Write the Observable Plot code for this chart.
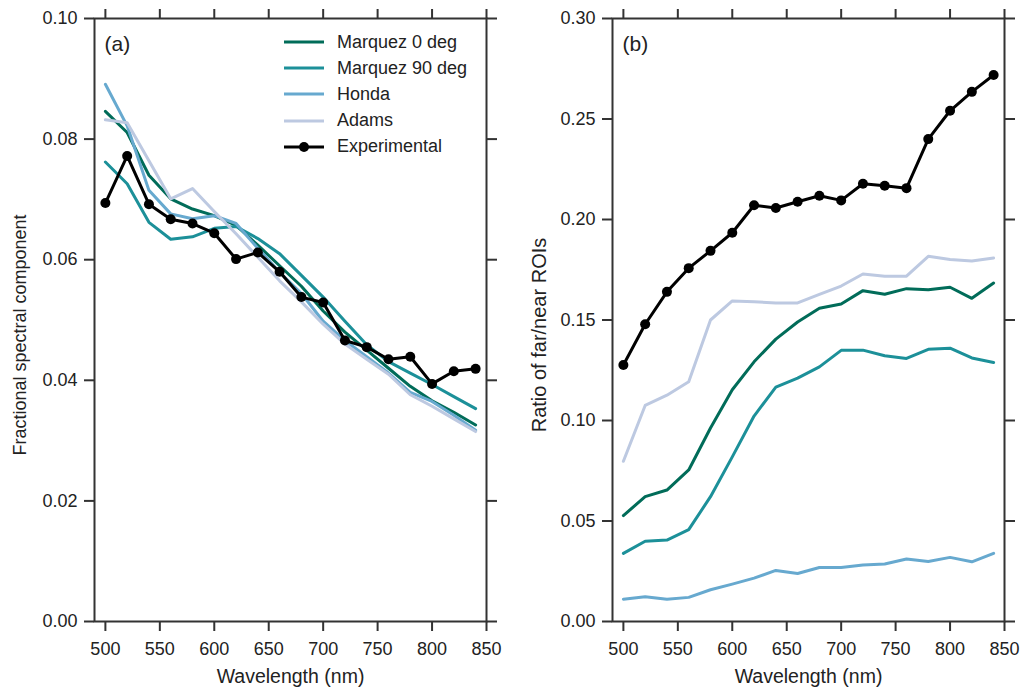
<!DOCTYPE html>
<html>
<head>
<meta charset="utf-8">
<script src="https://cdn.jsdelivr.net/npm/d3@7"></script>
<script src="https://cdn.jsdelivr.net/npm/@observablehq/plot@0.6"></script>
<style>
  html, body { margin: 0; padding: 0; background: #fff; }
  #wrap { position: relative; width: 1022px; height: 690px; font-family: "Liberation Sans", Arial, sans-serif; }
  .panel { position: absolute; top: 0; }
  #legend { position: absolute; left: 284px; top: 29px; font-size: 18px; color: #222; }
  #legend .row { display: flex; align-items: center; height: 26.2px; }
  #legend svg { margin-right: 13px; }
</style>
</head>
<body>
<div id="wrap"></div>
<script>
const wavelengths = [500,520,540,560,580,600,620,640,660,680,700,720,740,760,780,800,820,840];
const seriesNames = ["Marquez 0 deg","Marquez 90 deg","Honda","Adams","Experimental"];
const seriesColors = ["#016c59","#1c9099","#67a9cf","#bdc9e1","#000000"];
const xTicks = [500,550,600,650,700,750,800,850];
const yTicksA = [0,0.02,0.04,0.06,0.08,0.10];
const yTicksB = [0,0.05,0.10,0.15,0.20,0.25,0.30];

// Panel (a): fractional spectral component
const aMarquez0  = [0.0846,0.0811,0.0740,0.0701,0.0684,0.0673,0.0657,0.0624,0.0590,0.0556,0.0515,0.0480,0.0450,0.0420,0.0390,0.0366,0.0347,0.0326];
const aMarquez90 = [0.0762,0.0726,0.0662,0.0634,0.0638,0.0652,0.0655,0.0635,0.0610,0.0574,0.0538,0.0498,0.0459,0.0431,0.0412,0.0393,0.0373,0.0353];
const aHonda     = [0.0891,0.0822,0.0715,0.0676,0.0668,0.0673,0.0660,0.0619,0.0579,0.0544,0.0498,0.0466,0.0439,0.0412,0.0380,0.0365,0.0342,0.0317];
const aAdams     = [0.0832,0.0827,0.0764,0.0701,0.0718,0.0680,0.0643,0.0604,0.0565,0.0530,0.0493,0.0460,0.0435,0.0410,0.0376,0.0357,0.0336,0.0315];
const aExp       = [0.0694,0.0772,0.0692,0.0667,0.0660,0.0644,0.0601,0.0612,0.0580,0.0538,0.0529,0.0466,0.0455,0.0435,0.0439,0.0394,0.0415,0.0419];

// Panel (b): ratio of far/near ROIs
const bMarquez0  = [0.0527,0.0621,0.0654,0.0754,0.0963,0.1153,0.1292,0.1405,0.1490,0.1558,0.1580,0.1646,0.1628,0.1656,0.1650,0.1663,0.1608,0.1684];
const bMarquez90 = [0.0339,0.0399,0.0405,0.0457,0.0621,0.0819,0.1022,0.1166,0.1211,0.1267,0.1349,0.1350,0.1322,0.1309,0.1354,0.1360,0.1311,0.1289];
const bHonda     = [0.0111,0.0123,0.0111,0.0120,0.0158,0.0186,0.0216,0.0254,0.0239,0.0269,0.0269,0.0281,0.0286,0.0311,0.0299,0.0319,0.0297,0.0339];
const bAdams     = [0.0797,0.1075,0.1126,0.1193,0.1500,0.1595,0.1591,0.1585,0.1585,0.1628,0.1669,0.1729,0.1718,0.1718,0.1817,0.1801,0.1794,0.1809];
const bExp       = [0.1276,0.1479,0.1640,0.1758,0.1844,0.1934,0.2071,0.2057,0.2088,0.2118,0.2095,0.2178,0.2168,0.2156,0.2400,0.2541,0.2635,0.2719];

function toRows(arrays) {
  const rows = [];
  arrays.forEach((arr, si) => arr.forEach((v, i) => rows.push({series: seriesNames[si], x: wavelengths[i], y: v})));
  return rows;
}

const rowsA = toRows([aMarquez0, aMarquez90, aHonda, aAdams, aExp]);
const rowsB = toRows([bMarquez0, bMarquez90, bHonda, bAdams, bExp]);

function panel({rows, yDomain, yTicks, yLabel, yLabelSize, yLabelDx, tag, width, marginLeft, marginRight}) {
  const axisStyle = {tickSize: 10, stroke: "#333", strokeWidth: 2};
  const smooth = seriesNames.slice(0, 4);
  return Plot.plot({
    width, height: 690,
    marginTop: 18, marginBottom: 69, marginLeft, marginRight,
    style: {fontFamily: "'Liberation Sans', Arial, sans-serif", fontSize: "18px", color: "#222", background: "transparent"},
    x: {domain: [490, 850]},
    y: {domain: yDomain},
    marks: [
      Plot.axisX({anchor: "bottom", ticks: xTicks, tickFormat: d => String(d), tickPadding: 11, ...axisStyle, label: null, fontSize: 18}),
      Plot.axisX({anchor: "bottom", ticks: [], label: "Wavelength (nm)", labelAnchor: "center", labelArrow: "none", labelOffset: 61, fontSize: 19.5}),
      Plot.axisX({anchor: "top", ticks: xTicks, tickFormat: () => "", label: null, ...axisStyle}),
      Plot.axisY({anchor: "left", ticks: yTicks, tickFormat: d => d.toFixed(2), tickPadding: 7, ...axisStyle, label: null, fontSize: 18}),
      Plot.axisY({anchor: "right", ticks: yTicks, tickFormat: () => "", label: null, ...axisStyle}),
      Plot.text([yLabel], {frameAnchor: "left", rotate: -90, dx: yLabelDx, dy: 15, fontSize: yLabelSize, fill: "#222", textAnchor: "middle", lineAnchor: "middle"}),
      ...smooth.map((name, k) => Plot.line(rows.filter(d => d.series === name), {x: "x", y: "y", stroke: seriesColors[k], strokeWidth: 3})),
      Plot.line(rows.filter(d => d.series === "Experimental"), {x: "x", y: "y", stroke: "#000", strokeWidth: 3}),
      Plot.dot(rows.filter(d => d.series === "Experimental"), {x: "x", y: "y", fill: "#000", r: 5}),
      Plot.frame({stroke: "#333", strokeWidth: 2}),
      Plot.text([tag], {frameAnchor: "top-left", dx: 10, dy: 18, fontSize: 21, fill: "#222", textAnchor: "start", lineAnchor: "top"})
    ]
  });
}

const wrap = document.getElementById("wrap");

const pA = panel({rows: rowsA, yDomain: [0, 0.1], yTicks: yTicksA, yLabel: "Fractional spectral component", yLabelSize: 18, yLabelDx: -74, tag: "(a)",
  width: 511, marginLeft: 94, marginRight: 25});
pA.classList.add("panel"); pA.style.left = "0px";
wrap.appendChild(pA);

const pB = panel({rows: rowsB, yDomain: [0, 0.3], yTicks: yTicksB, yLabel: "Ratio of far/near ROIs", yLabelSize: 20, yLabelDx: -73, tag: "(b)",
  width: 511, marginLeft: 101, marginRight: 18});
pB.classList.add("panel"); pB.style.left = "511px";
wrap.appendChild(pB);

// Legend for panel (a)
const legend = document.createElement("div");
legend.id = "legend";
seriesNames.forEach((name, k) => {
  const row = document.createElement("div");
  row.className = "row";
  const isExp = name === "Experimental";
  row.innerHTML = `<svg width="40" height="12"><line x1="0" x2="40" y1="6" y2="6" stroke="${seriesColors[k]}" stroke-width="3"/>` +
    (isExp ? `<circle cx="20" cy="6" r="5" fill="#000"/>` : ``) + `</svg><span>${name}</span>`;
  legend.appendChild(row);
});
wrap.appendChild(legend);
</script>
</body>
</html>
